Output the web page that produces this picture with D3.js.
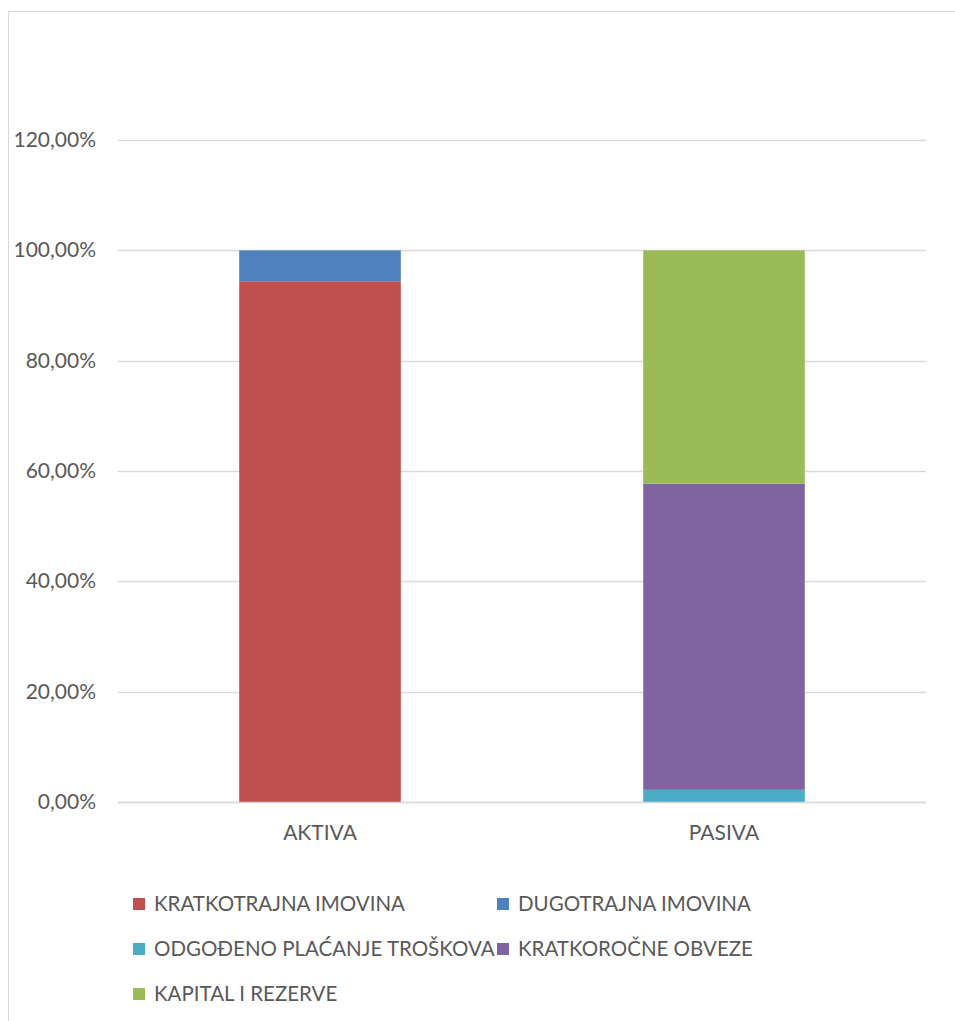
<!DOCTYPE html>
<html>
<head>
<meta charset="utf-8">
<script src="https://cdn.jsdelivr.net/npm/d3@7"></script>
<style>
  body { margin: 0; background: #fff; }
  text { font-family: Lato, 'Open Sans', sans-serif; fill: #595959; }
</style>
</head>
<body>
<svg id="chart" width="955" height="1021"></svg>
<script>
// categories and series (share of total)
var categories = ['AKTIVA', 'PASIVA']
var seriesNames = ['KRATKOTRAJNA IMOVINA', 'DUGOTRAJNA IMOVINA', 'ODGOĐENO PLAĆANJE TROŠKOVA', 'KRATKOROČNE OBVEZE', 'KAPITAL I REZERVE']
var kratkotrajna = [0.944, 0]
var dugotrajna = [0.056, 0]
var odgodeno = [0, 0.022]
var kratkorocne = [0, 0.555]
var kapital = [0, 0.423]
var seriesColors = ['#C0504D', '#4F81BD', '#4BACC6', '#8064A2', '#9BBB59']
var yTicks = [0, 0.2, 0.4, 0.6, 0.8, 1.0, 1.2]

var seriesValues = [kratkotrajna, dugotrajna, odgodeno, kratkorocne, kapital]

var svg = d3.select('#chart')

// chart border (cut off at right and bottom, like the source)
svg.append('rect')
  .attr('x', 8.5).attr('y', 11.5)
  .attr('width', 1000).attr('height', 1100)
  .attr('fill', 'none')
  .attr('stroke', '#d9d9d9')

var x = d3.scaleBand().domain(categories).range([118, 926]).padding(0)
var y = d3.scaleLinear().domain([0, 1.2]).range([802, 140])
var barW = x.bandwidth() * 0.4

var fmt = function(v) {
  return d3.format('.2f')(v * 100).replace('.', ',') + '%'
}

// gridlines
svg.append('g')
  .selectAll('line')
  .data(yTicks)
  .enter()
  .append('line')
  .attr('x1', 118).attr('x2', 926)
  .attr('y1', function(d) { return Math.round(y(d)) + 0.5 })
  .attr('y2', function(d) { return Math.round(y(d)) + 0.5 })
  .attr('stroke', '#d9d9d9')
  .attr('stroke-width', 1.3)

// y labels
svg.append('g')
  .selectAll('text')
  .data(yTicks)
  .enter()
  .append('text')
  .attr('x', 96)
  .attr('y', function(d) { return y(d) + 7 })
  .attr('text-anchor', 'end')
  .attr('font-size', 21)
  .text(fmt)

// stacked bars
var rows = categories.map(function(c, i) {
  var r = { cat: c }
  seriesNames.forEach(function(s, j) { r[s] = seriesValues[j][i] })
  return r
})
var stack = d3.stack().keys(seriesNames)(rows)

svg.append('g')
  .selectAll('g')
  .data(stack)
  .enter()
  .append('g')
  .attr('fill', function(d, i) { return seriesColors[i] })
  .selectAll('rect')
  .data(function(d) { return d })
  .enter()
  .append('rect')
  .attr('x', function(d) { return x(d.data.cat) + (x.bandwidth() - barW) / 2 })
  .attr('width', barW)
  .attr('y', function(d) { return y(d[1]) })
  .attr('height', function(d) { return y(d[0]) - y(d[1]) })

// zero axis line on top
svg.append('line')
  .attr('x1', 118).attr('x2', 926)
  .attr('y1', y(0) + 0.5).attr('y2', y(0) + 0.5)
  .attr('stroke', '#d9d9d9')
  .attr('stroke-width', 1.3)

// category labels
svg.append('g')
  .selectAll('text')
  .data(categories)
  .enter()
  .append('text')
  .attr('x', function(d) { return x(d) + x.bandwidth() / 2 })
  .attr('y', 840)
  .attr('text-anchor', 'middle')
  .attr('font-size', 21)
  .text(function(d) { return d })

// legend
var legendPos = [[133, 904], [497, 904], [133, 949], [497, 949], [133, 994]]
var legend = svg.append('g')
  .selectAll('g')
  .data(seriesNames)
  .enter()
  .append('g')
  .attr('transform', function(d, i) { return 'translate(' + legendPos[i][0] + ',' + legendPos[i][1] + ')' })

legend.append('rect')
  .attr('x', 0).attr('y', -6)
  .attr('width', 12).attr('height', 12)
  .attr('fill', function(d, i) { return seriesColors[i] })

legend.append('text')
  .attr('x', 21)
  .attr('y', 7)
  .attr('font-size', 20.5)
  .text(function(d) { return d })
</script>
</body>
</html>
